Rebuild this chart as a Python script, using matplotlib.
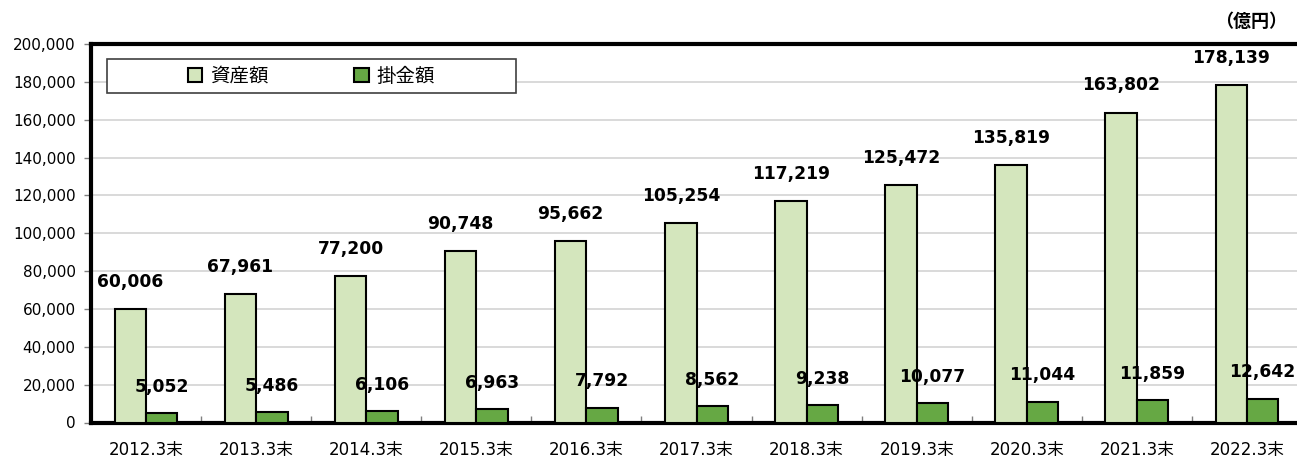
import matplotlib
matplotlib.use("Agg")
import numpy as np
from matplotlib import pyplot as plt
from matplotlib.patches import Patch, Rectangle

# Data
years = ["2012.3末", "2013.3末", "2014.3末", "2015.3末", "2016.3末", "2017.3末",
         "2018.3末", "2019.3末", "2020.3末", "2021.3末", "2022.3末"]
assets = [60006, 67961, 77200, 90748, 95662, 105254, 117219, 125472, 135819, 163802, 178139]
contrib = [5052, 5486, 6106, 6963, 7792, 8562, 9238, 10077, 11044, 11859, 12642]
series_names = ["資産額", "掛金額"]
unit = "（億円）"

# Style
col_assets = "#d4e6bd"
col_contrib = "#66a844"
fonts = ["DejaVu Sans", "Noto Sans CJK JP"]
plt.rcParams['font.family'] = fonts

W, H = 1297, 459
fig = plt.figure(figsize=(W/100, H/100), dpi=100)
# axes in pixels: left 91, right 1302, top 44, bottom 422.5
ax_l, ax_r, ax_t, ax_b = 91, 1302, 44, 422.5
ax = fig.add_axes([ax_l/W, 1-ax_b/H, (ax_r-ax_l)/W, (ax_b-ax_t)/H])

x = np.arange(len(years))
bw = 0.285
ax.bar(x - bw/2, assets, bw, color=col_assets, edgecolor="black", linewidth=1.5, zorder=3)
ax.bar(x + bw/2, contrib, bw, color=col_contrib, edgecolor="black", linewidth=1.5, zorder=3)

for xi, v in zip(x, assets):
    ax.annotate(f"{v:,}", (xi - bw/2, v), xytext=(0, 19.5), textcoords="offset points",
                ha="center", va="center", fontsize=12.3, fontweight="bold", zorder=5)
for xi, v in zip(x, contrib):
    ax.annotate(f"{v:,}", (xi + bw/2, v), xytext=(0, 19), textcoords="offset points",
                ha="center", va="center", fontsize=12.3, fontweight="bold", zorder=5)

ax.set_xlim(-0.5, len(years) - 0.5)
ax.set_ylim(0, 200000)
ax.set_yticks(np.arange(0, 200001, 20000))
ax.set_yticklabels([f"{v:,}" for v in range(0, 200001, 20000)], fontsize=11)
ax.yaxis.grid(True, color="#d0d0d0", linewidth=1.1, zorder=0)
ax.set_axisbelow(True)
ax.tick_params(axis="y", length=5, width=1, color="#808080", pad=6)

# category labels and boundary ticks
ax.set_xticks(x)
ax.set_xticklabels(years, fontsize=12)
ax.tick_params(axis="x", length=0, pad=13)
ax.set_xticks(np.arange(0.5, len(years) - 0.5, 1), minor=True)
ax.tick_params(axis="x", which="minor", direction="in", length=5, width=1, color="#808080")

for s in ["left", "top", "bottom"]:
    ax.spines[s].set_linewidth(3)
ax.spines["right"].set_visible(False)

# legend box
lx0, lx1, ly0, ly1 = 107, 516, 59, 93
box = Rectangle((lx0/W, 1-ly1/H), (lx1-lx0)/W, (ly1-ly0)/H, transform=fig.transFigure,
                facecolor="white", edgecolor="#404040", linewidth=1.2, zorder=4)
fig.patches.append(box)
handles = [Patch(facecolor=col_assets, edgecolor="black", linewidth=1.5),
           Patch(facecolor=col_contrib, edgecolor="black", linewidth=1.5)]
fig.legend(handles, series_names, loc="center", ncol=2, frameon=False,
           bbox_to_anchor=((lx0+lx1)/2/W, 1-(ly0+ly1)/2/H), fontsize=14,
           handlelength=0.75, handleheight=0.75, handletextpad=0.4, columnspacing=4.4)

fig.text(1287/W, 1-22/H, unit, ha="right", va="center", fontsize=13, fontweight="bold")

fig.savefig("out.png", dpi=100)
